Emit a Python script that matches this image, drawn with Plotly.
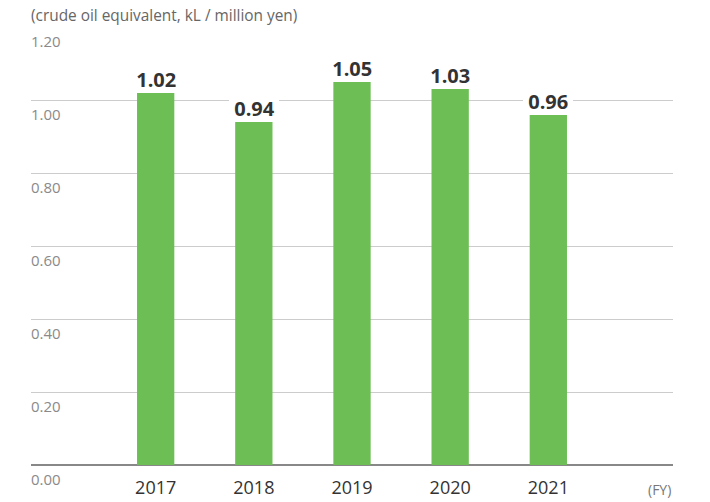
import plotly.graph_objects as go

years = ["2017", "2018", "2019", "2020", "2021"]
values = [1.02, 0.94, 1.05, 1.03, 0.96]
value_labels = ["1.02", "0.94", "1.05", "1.03", "0.96"]
y_ticks = [0.0, 0.2, 0.4, 0.6, 0.8, 1.0, 1.2]
y_tick_labels = ["0.00", "0.20", "0.40", "0.60", "0.80", "1.00", "1.20"]
unit_label = "(crude oil equivalent, kL / million yen)"
fy_label = "(FY)"

FONT = "Open Sans"
BAR_COLOR = "#6dbf55"

fig = go.Figure()
fig.add_trace(go.Bar(
    x=list(range(len(years))), y=values,
    width=0.38, marker=dict(color=BAR_COLOR, line=dict(width=0)),
    hoverinfo="skip",
))

annotations = []
for i, (v, t) in enumerate(zip(values, value_labels)):
    annotations.append(dict(
        x=i, y=v, xref="x", yref="y", text=f"<b>&nbsp;{t}&nbsp;</b>", showarrow=False,
        yanchor="bottom", xanchor="center", yshift=0,
        bgcolor="white", borderpad=0, borderwidth=0,
        font=dict(family=FONT, size=20, color="#333333"),
    ))
for tv, tl in zip(y_ticks, y_tick_labels):
    annotations.append(dict(
        x=0, y=tv, xref="paper", yref="y", text=tl, showarrow=False,
        xanchor="left", yanchor="middle", yshift=-14, xshift=-2,
        font=dict(family=FONT, size=15, color="#8a8a8a"),
    ))
annotations.append(dict(
    x=0, y=1, xref="paper", yref="paper", text=unit_label, showarrow=False,
    xanchor="left", yanchor="middle", yshift=12, xshift=-2,
    font=dict(family=FONT, size=15.4, color="#666666"),
))
annotations.append(dict(
    x=1, y=0, xref="paper", yref="paper", text=fy_label, showarrow=False,
    xanchor="right", yanchor="middle", yshift=-24, xshift=0,
    font=dict(family=FONT, size=14, color="#777777"),
))

fig.update_layout(
    width=710, height=502,
    margin=dict(l=31, r=37, t=27, b=37),
    paper_bgcolor="white", plot_bgcolor="white",
    showlegend=False,
    annotations=annotations,
    xaxis=dict(
        range=[-1.27, 5.27], tickmode="array",
        tickvals=list(range(len(years))), ticktext=years,
        showgrid=False, zeroline=False, showline=False,
        ticks="outside", ticklen=6, tickcolor="rgba(0,0,0,0)",
        tickfont=dict(family=FONT, size=18, color="#333333"),
        automargin=False, fixedrange=True,
    ),
    yaxis=dict(
        range=[0, 1.2], tickmode="array", tickvals=y_ticks,
        showticklabels=False, showgrid=True, gridcolor="#cccccc", gridwidth=1,
        zeroline=True, zerolinecolor="#888888", zerolinewidth=1.5,
        showline=False, automargin=False, fixedrange=True,
    ),
)

fig.write_html("out.html", config={"displayModeBar": False},
               post_script="document.body.style.margin='0';")
